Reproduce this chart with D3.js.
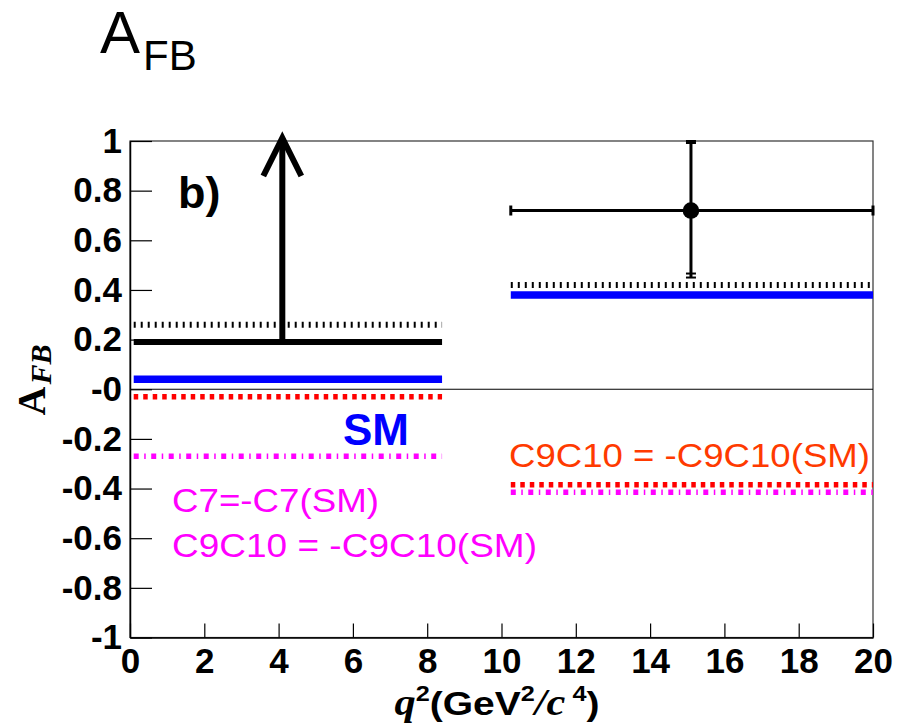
<!DOCTYPE html>
<html>
<head>
<meta charset="utf-8">
<script src="https://cdn.jsdelivr.net/npm/d3@7"></script>
<style>
  body { margin: 0; background: #fff; }
  svg { display: block; }
</style>
</head>
<body>
<svg id="chart"></svg>
<script>
// q2 bins (GeV^2/c^4)
const binLo = [0.1, 10.25];
const binHi = [8.4, 20];

// theory predictions per bin
const smPred = [0.04, 0.38];
const c7FlipPred = [0.26, 0.42];        // black hatched
const c9c10FlipPred = [-0.03, -0.385];  // red dotted
const bothFlipPred = [-0.27, -0.415];   // magenta dash-dot

// measurement: low bin is a lower limit, high bin a point with errors
const limitX = 4.1;
const limitLo = 0.19;
const limitHi = 1.0;
const pointX = 15.1;
const pointY = 0.72;
const pointErrLo = 0.27;
const pointErrHi = 0.28;

const xTicks = [0, 2, 4, 6, 8, 10, 12, 14, 16, 18, 20];
const yTicks = [-1, -0.8, -0.6, -0.4, -0.2, 0, 0.2, 0.4, 0.6, 0.8, 1];
const yTickLabels = ["-1", "-0.8", "-0.6", "-0.4", "-0.2", "-0", "0.2", "0.4", "0.6", "0.8", "1"];

const W = 897, H = 726;
const margin = { top: 141, right: 24, bottom: 88.5, left: 130 };

const svg = d3.select("#chart").attr("width", W).attr("height", H);

const x = d3.scaleLinear().domain([0, 20]).range([margin.left, W - margin.right]);
const y = d3.scaleLinear().domain([-1, 1]).range([H - margin.bottom, margin.top]);

const sans = "'Liberation Sans', Arial, Helvetica, sans-serif";
const serif = "'Liberation Serif', 'Times New Roman', serif";

// frame
svg.append("rect")
  .attr("x", x(0)).attr("y", y(1))
  .attr("width", x(20) - x(0)).attr("height", y(-1) - y(1))
  .attr("fill", "none").attr("stroke", "#333").attr("stroke-width", 1.2);

// zero line
svg.append("line")
  .attr("x1", x(0)).attr("x2", x(20))
  .attr("y1", y(0)).attr("y2", y(0))
  .attr("stroke", "#000").attr("stroke-width", 1.2);

// axes
const yAxis = svg.append("g")
  .attr("transform", "translate(" + x(0) + ",0)")
  .call(d3.axisLeft(y).tickValues(yTicks)
    .tickFormat((d, i) => yTickLabels[i])
    .tickSizeInner(-22).tickSizeOuter(0).tickPadding(8));
yAxis.select(".domain").attr("stroke", "#000").attr("stroke-width", 1.5);
yAxis.selectAll(".tick line").attr("stroke", "#000").attr("stroke-width", 1.2);
yAxis.selectAll("text")
  .attr("font-family", sans).attr("font-weight", "bold").attr("font-size", 35)
  .attr("fill", "#000");

const xAxis = svg.append("g")
  .attr("transform", "translate(0," + y(-1) + ")")
  .call(d3.axisBottom(x).tickValues(xTicks)
    .tickSizeInner(-14).tickSizeOuter(0).tickPadding(11));
xAxis.select(".domain").attr("stroke", "#000").attr("stroke-width", 1.5);
xAxis.selectAll(".tick line").attr("stroke", "#000").attr("stroke-width", 1.2);
xAxis.selectAll("text")
  .attr("font-family", sans).attr("font-weight", "bold").attr("font-size", 35)
  .attr("fill", "#000");

// horizontal bin lines
function binLines(values, color, width, dash, cls) {
  svg.selectAll("line." + cls)
    .data(values)
    .join("line")
    .attr("class", cls)
    .attr("x1", (d, i) => x(binLo[i]))
    .attr("x2", (d, i) => x(binHi[i]))
    .attr("y1", d => y(d))
    .attr("y2", d => y(d))
    .attr("stroke", color)
    .attr("stroke-width", width)
    .attr("stroke-dasharray", dash);
}

binLines(c7FlipPred, "#000", 6, "2,5", "c7");
binLines(smPred, "#0000ff", 7.5, null, "sm");
binLines(c9c10FlipPred, "#ff0000", 5.5, "4.5,5", "c9c10");
binLines(bothFlipPred, "#ff00ff", 5.5, "5,5.5,1.5,5.5", "both");

// lower limit in the first bin
svg.append("line")
  .attr("x1", x(binLo[0])).attr("x2", x(binHi[0]))
  .attr("y1", y(limitLo)).attr("y2", y(limitLo))
  .attr("stroke", "#000").attr("stroke-width", 6);

const tipY = y(limitHi) - 5;
svg.append("line")
  .attr("x1", x(limitX)).attr("x2", x(limitX))
  .attr("y1", y(limitLo)).attr("y2", tipY + 2)
  .attr("stroke", "#000").attr("stroke-width", 6);
svg.append("path")
  .attr("d", d3.line()([[x(limitX) - 19, tipY + 40], [x(limitX), tipY + 2], [x(limitX) + 19, tipY + 40]]))
  .attr("fill", "none").attr("stroke", "#000").attr("stroke-width", 6)
  .attr("stroke-linejoin", "miter");

// data point with errors in the second bin
const pg = svg.append("g");
pg.append("line")
  .attr("x1", x(binLo[1])).attr("x2", x(binHi[1]))
  .attr("y1", y(pointY)).attr("y2", y(pointY))
  .attr("stroke", "#000").attr("stroke-width", 3);
pg.append("line")
  .attr("x1", x(pointX)).attr("x2", x(pointX))
  .attr("y1", y(pointY - pointErrLo)).attr("y2", y(pointY + pointErrHi))
  .attr("stroke", "#000").attr("stroke-width", 3);
// caps
pg.append("rect")
  .attr("x", x(pointX) - 5).attr("y", y(pointY + pointErrHi) - 1)
  .attr("width", 10).attr("height", 4).attr("fill", "#000");
[0, -4].forEach(off => {
  pg.append("line")
    .attr("x1", x(pointX) - 5).attr("x2", x(pointX) + 5)
    .attr("y1", y(pointY - pointErrLo) + off).attr("y2", y(pointY - pointErrLo) + off)
    .attr("stroke", "#000").attr("stroke-width", 2);
});
[binLo[1], binHi[1]].forEach(v => {
  pg.append("line")
    .attr("x1", x(v)).attr("x2", x(v))
    .attr("y1", y(pointY) - 5).attr("y2", y(pointY) + 5)
    .attr("stroke", "#000").attr("stroke-width", 3);
});
pg.append("circle")
  .attr("cx", x(pointX)).attr("cy", y(pointY)).attr("r", 8.3)
  .attr("fill", "#000");

// labels inside the plot
svg.append("text")
  .attr("x", 178).attr("y", 208)
  .attr("font-family", sans).attr("font-weight", "bold").attr("font-size", 45)
  .text("b)");

svg.append("text")
  .attr("x", 343).attr("y", 445)
  .attr("font-family", sans).attr("font-weight", "bold").attr("font-size", 44)
  .attr("fill", "#0000ff")
  .text("SM");

svg.append("text")
  .attr("x", 172).attr("y", 512)
  .attr("font-family", sans).attr("font-size", 33)
  .attr("textLength", 207).attr("lengthAdjust", "spacingAndGlyphs")
  .attr("fill", "#ff00ff")
  .text("C7=-C7(SM)");

svg.append("text")
  .attr("x", 172).attr("y", 557)
  .attr("font-family", sans).attr("font-size", 33)
  .attr("textLength", 365).attr("lengthAdjust", "spacingAndGlyphs")
  .attr("fill", "#ff00ff")
  .text("C9C10 = -C9C10(SM)");

svg.append("text")
  .attr("x", 509).attr("y", 467)
  .attr("font-family", sans).attr("font-size", 34)
  .attr("textLength", 361).attr("lengthAdjust", "spacingAndGlyphs")
  .attr("fill", "#ff3a00")
  .text("C9C10 = -C9C10(SM)");

// title
const title = svg.append("text")
  .attr("x", 100).attr("y", 53)
  .attr("font-family", sans).attr("fill", "#000");
title.append("tspan").attr("font-size", 60).text("A");
title.append("tspan").attr("font-size", 42).attr("dx", 3).attr("dy", 17).text("FB");

// x axis title
const xt = svg.append("text")
  .attr("x", 497).attr("y", 715)
  .attr("text-anchor", "middle")
  .attr("font-family", sans).attr("font-weight", "bold").attr("font-size", 34)
  .attr("textLength", 205).attr("lengthAdjust", "spacingAndGlyphs");
xt.append("tspan").attr("font-family", serif).attr("font-style", "italic").attr("font-size", 37).text("q");
xt.append("tspan").attr("font-size", 22).attr("dy", -14).text("2");
xt.append("tspan").attr("dy", 14).text("(GeV");
xt.append("tspan").attr("font-size", 22).attr("dy", -14).text("2");
xt.append("tspan").attr("dy", 14).attr("font-family", serif).attr("font-style", "italic").attr("font-size", 37).text("/c");
xt.append("tspan").attr("font-size", 22).attr("dy", -14).text(" 4");
xt.append("tspan").attr("dy", 14).text(")");

// y axis title
const yt = svg.append("text")
  .attr("transform", "translate(45,380) rotate(-90)")
  .attr("text-anchor", "middle")
  .attr("font-family", serif).attr("font-weight", "bold").attr("font-size", 40);
yt.append("tspan").text("A");
yt.append("tspan").attr("font-style", "italic").attr("font-size", 30).attr("dx", 2).attr("dy", 6).text("FB");
</script>
</body>
</html>
